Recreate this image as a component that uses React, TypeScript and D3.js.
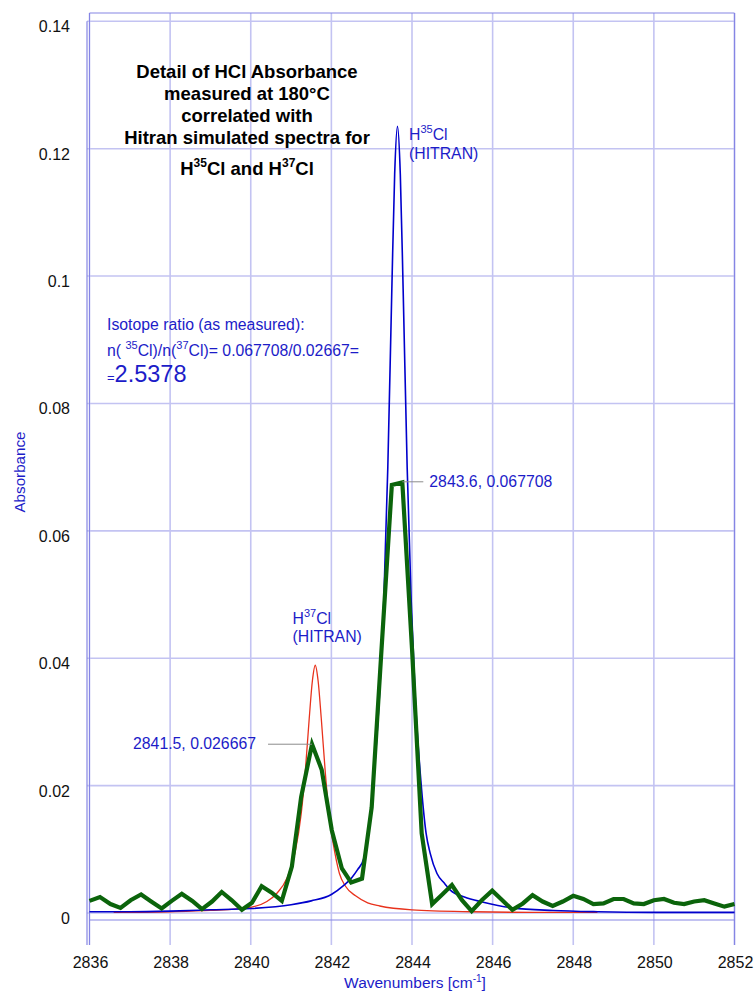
import React from 'react'
import * as d3 from 'd3'

// measured absorbance (thick green trace)
const measured: [number, number][] = [
  [2836.0, 0.0019], [2836.26, 0.0025], [2836.52, 0.0014], [2836.77, 0.0008],
  [2837.02, 0.0020], [2837.28, 0.0029], [2837.53, 0.0018], [2837.79, 0.0007],
  [2838.04, 0.0019], [2838.29, 0.0030], [2838.55, 0.0019], [2838.79, 0.0006],
  [2839.04, 0.0018], [2839.28, 0.0033], [2839.53, 0.0020], [2839.78, 0.0005],
  [2840.03, 0.0016], [2840.27, 0.0042], [2840.52, 0.0032], [2840.77, 0.0019],
  [2841.02, 0.0073], [2841.25, 0.0182], [2841.52, 0.0265], [2841.76, 0.0225],
  [2842.01, 0.0130], [2842.26, 0.0070], [2842.49, 0.0048], [2842.76, 0.0054],
  [2843.0, 0.0166], [2843.25, 0.0420], [2843.5, 0.0672], [2843.76, 0.0676],
  [2844.0, 0.0415], [2844.24, 0.0125], [2844.5, 0.0014], [2844.75, 0.0029],
  [2844.99, 0.0044], [2845.24, 0.0020], [2845.48, 0.0003], [2845.73, 0.0020],
  [2845.99, 0.0035], [2846.24, 0.0020], [2846.49, 0.0005], [2846.75, 0.0015],
  [2846.99, 0.0028], [2847.24, 0.0018], [2847.49, 0.0011], [2847.74, 0.0018],
  [2848.0, 0.0027], [2848.25, 0.0022], [2848.5, 0.0014], [2848.75, 0.0015],
  [2849.0, 0.0022], [2849.25, 0.0022], [2849.5, 0.0015], [2849.75, 0.0014],
  [2850.0, 0.0020], [2850.25, 0.0022], [2850.5, 0.0016], [2850.75, 0.0014],
  [2851.0, 0.0018], [2851.25, 0.0020], [2851.5, 0.0015], [2851.75, 0.0010],
  [2852.0, 0.0014],
]

// HITRAN H35Cl simulated (blue)
const h35: [number, number][] = [
  [2836.0, 0.0002], [2837.0, 0.0002], [2838.0, 0.0003], [2839.0, 0.0005],
  [2840.0, 0.0007], [2841.0, 0.0013], [2841.5, 0.0019], [2842.0, 0.0029],
  [2842.3, 0.0043], [2842.5, 0.0055], [2842.65, 0.0068], [2842.8, 0.0085],
  [2842.95, 0.0140], [2843.05, 0.0210], [2843.2, 0.0350], [2843.3, 0.0490],
  [2843.4, 0.0700], [2843.5, 0.0980], [2843.57, 0.1160], [2843.64, 0.1235],
  [2843.71, 0.1160], [2843.78, 0.0980], [2843.88, 0.0700], [2843.98, 0.0490],
  [2844.08, 0.0340], [2844.23, 0.0200], [2844.35, 0.0125], [2844.45, 0.0094],
  [2844.62, 0.0062], [2844.8, 0.0047], [2844.95, 0.0036], [2845.3, 0.0025],
  [2845.77, 0.0017], [2846.5, 0.0008], [2847.5, 0.0004], [2848.6, 0.0002],
  [2850.0, 0.0001], [2852.0, 0.0001],
]

// HITRAN H37Cl simulated (red)
const h37: [number, number][] = [
  [2836.6, 0.0001], [2838.0, 0.0002], [2839.0, 0.0004], [2840.0, 0.0009],
  [2840.4, 0.0018], [2840.65, 0.0031], [2840.9, 0.0055], [2841.1, 0.0095],
  [2841.25, 0.0155], [2841.35, 0.0220], [2841.45, 0.0305], [2841.53, 0.0365],
  [2841.6, 0.0389], [2841.67, 0.0365], [2841.75, 0.0305], [2841.85, 0.0220],
  [2841.95, 0.0150], [2842.1, 0.0090], [2842.2, 0.0062], [2842.35, 0.0042],
  [2842.6, 0.0027], [2842.9, 0.0016], [2843.2, 0.0011], [2844.0, 0.0005],
  [2845.5, 0.0002], [2847.0, 0.0001], [2848.6, 0.0001],
]

const xTicks = [2836, 2838, 2840, 2842, 2844, 2846, 2848, 2850, 2852]
const yTicks = [0, 0.02, 0.04, 0.06, 0.08, 0.1, 0.12, 0.14]
const yTickLabels = ['0', '0.02', '0.04', '0.06', '0.08', '0.1', '0.12', '0.14']

const peak35: [number, number] = [2843.76, 0.0677]
const peak37: [number, number] = [2841.52, 0.0265]

const FONT = '"Liberation Sans", Arial, Helvetica, sans-serif'
const BLUE_TXT = '#1c1cc8'
const GRID = '#c3c3f2'
const FRAME = '#8585e4'

export default function App() {
  const W = 754, H = 993
  const x = d3.scaleLinear().domain([2836, 2852]).range([89.5, 734.5])
  const y = d3.scaleLinear().domain([0, 0.14]).range([913, 21.3])
  const line = d3.line<[number, number]>().x(d => x(d[0])).y(d => y(d[1]))
  const smooth = d3.line<[number, number]>().x(d => x(d[0])).y(d => y(d[1])).curve(d3.curveMonotoneX)

  const top = 13, bottom = 945, left = 87

  return (
    <svg width={W} height={H} style={{ position: 'absolute', left: 0, top: 0, background: '#fff' }}
      fontFamily={FONT}>
      <rect width={W} height={H} fill="#fff" />

      {/* grid */}
      {xTicks.map(t => (
        <line key={'gx' + t} x1={x(t)} x2={x(t)} y1={top} y2={bottom} stroke={GRID} strokeWidth={1.6} />
      ))}
      {yTicks.map(t => (
        <line key={'gy' + t} x1={left} x2={x(2852)} y1={y(t)} y2={y(t)} stroke={GRID} strokeWidth={1.6} />
      ))}

      {/* frame */}
      <line x1={left} x2={left} y1={y(0.14)} y2={bottom} stroke={FRAME} strokeWidth={1.2} />
      <line x1={x(2836)} x2={x(2836)} y1={top} y2={bottom} stroke={FRAME} strokeWidth={1} />
      <line x1={x(2836)} x2={x(2852)} y1={top} y2={top} stroke={FRAME} strokeWidth={1.2} />
      <line x1={x(2852)} x2={x(2852)} y1={top} y2={bottom} stroke={FRAME} strokeWidth={1.2} />
      <line x1={x(2836)} x2={x(2852)} y1={920} y2={920} stroke={FRAME} strokeWidth={1} />

      {/* tick labels */}
      {yTicks.map((t, i) => (
        <text key={'ty' + t} x={70} y={y(t) + 11} textAnchor="end" fontSize={16} fill="#111">
          {yTickLabels[i]}
        </text>
      ))}
      {xTicks.map(t => (
        <text key={'tx' + t} x={x(t) + 1} y={968} textAnchor="middle" fontSize={16} fill="#111">
          {t}
        </text>
      ))}

      {/* axis titles */}
      <text x={415} y={988} textAnchor="middle" fontSize={15.5} fill={BLUE_TXT}>
        Wavenumbers [cm<tspan dy={-6} fontSize={10}>-1</tspan><tspan dy={6}>]</tspan>
      </text>
      <text transform="translate(24.5,472) rotate(-90)" textAnchor="middle" fontSize={15.2} fill={BLUE_TXT}>
        Absorbance
      </text>

      {/* spectra */}
      <path d={smooth(h37) ?? ''} fill="none" stroke="#e8321c" strokeWidth={1.3} />
      <path d={smooth(h35) ?? ''} fill="none" stroke="#0000cc" strokeWidth={1.6} />
      <path d={line(measured) ?? ''} fill="none" stroke="#0b640b" strokeWidth={4.2} strokeLinejoin="miter" />

      {/* title */}
      <g fontWeight="bold" fontSize={18.5} fill="#000" textAnchor="middle">
        <text x={247} y={77.5}>Detail of HCl Absorbance</text>
        <text x={247} y={99.5}>measured at 180°C</text>
        <text x={247} y={121.5}>correlated with</text>
        <text x={247} y={143.5}>Hitran simulated spectra for</text>
        <text x={247} y={175}>
          H<tspan dy={-8} fontSize={12}>35</tspan><tspan dy={8}>Cl and H</tspan>
          <tspan dy={-8} fontSize={12}>37</tspan><tspan dy={8}>Cl</tspan>
        </text>
      </g>

      {/* isotope ratio */}
      <g fill={BLUE_TXT} fontSize={15.8}>
        <text x={107} y={330}>Isotope ratio (as measured):</text>
        <text x={107} y={356}>
          n( <tspan dy={-7} fontSize={11}>35</tspan><tspan dy={7}>Cl)/n(</tspan>
          <tspan dy={-7} fontSize={11}>37</tspan><tspan dy={7}>Cl)= 0.067708/0.02667=</tspan>
        </text>
        <text x={107} y={382}>
          <tspan fontSize={13}>=</tspan><tspan fontSize={23.5}>2.5378</tspan>
        </text>
      </g>

      {/* peak labels */}
      <g fill={BLUE_TXT} fontSize={15.8}>
        <text x={409} y={139.5}>
          H<tspan dy={-7} fontSize={11}>35</tspan><tspan dy={7}>Cl</tspan>
        </text>
        <text x={409} y={158.5}>(HITRAN)</text>
        <text x={292.5} y={623.5}>
          H<tspan dy={-7} fontSize={11}>37</tspan><tspan dy={7}>Cl</tspan>
        </text>
        <text x={292.5} y={642}>(HITRAN)</text>
      </g>

      {/* data annotations */}
      <line x1={x(peak35[0])} x2={x(peak35[0]) + 21} y1={y(peak35[1])} y2={y(peak35[1])} stroke="#8c8c8c" strokeWidth={1} />
      <text x={x(peak35[0]) + 27} y={y(peak35[1]) + 5} fontSize={15.8} fill={BLUE_TXT}>2843.6, 0.067708</text>
      <line x1={x(peak37[0])} x2={x(peak37[0]) - 44} y1={y(peak37[1])} y2={y(peak37[1])} stroke="#8c8c8c" strokeWidth={1} />
      <text x={x(peak37[0]) - 56} y={y(peak37[1]) + 5} fontSize={15.8} textAnchor="end" fill={BLUE_TXT}>2841.5, 0.026667</text>
    </svg>
  )
}
